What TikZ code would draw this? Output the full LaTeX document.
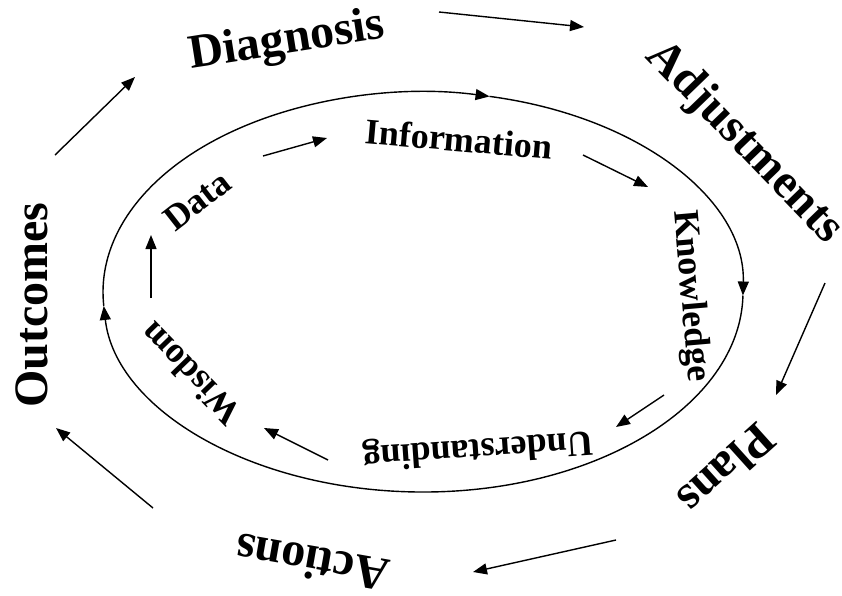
\documentclass[tikz,border=0pt]{standalone}
\usepackage{fontspec}
\setmainfont{Liberation Serif}
\usetikzlibrary{arrows.meta}
\begin{document}
\begin{tikzpicture}[x=1pt,y=-1pt,
  outerlbl/.style={inner sep=0pt,font=\bfseries\fontsize{48}{48}\selectfont},
  innerlbl/.style={inner sep=0pt,font=\bfseries\fontsize{36}{36}\selectfont},
  arr/.style={line width=1.4pt,-{Triangle[length=14pt,width=11pt]}},
  ring/.style={line width=1.4pt,-{Triangle[length=14pt,width=11pt]}}]
\useasboundingbox (0,0) rectangle (842,595);
% outer labels
\node[outerlbl,rotate=9] (diag) at (287,42) {Diagnosis};
\node[outerlbl,rotate=-46] (adj) at (744,143) {Adjustments};
\node[outerlbl,rotate=222] (plans) at (727,470) {Plans};
\node[outerlbl,rotate=170] (act) at (312,563) {Actions};
\node[outerlbl,rotate=90] (out) at (32,305) {Outcomes};
% inner labels
\node[innerlbl,rotate=38] (data) at (197,201) {Data};
\node[innerlbl,rotate=-5] (info) at (459,139) {Information};
\node[innerlbl,rotate=-85] (know) at (690,296) {Knowledge};
\node[innerlbl,rotate=184] (und) at (478,448) {Understanding};
\node[innerlbl,rotate=134] (wis) at (190,374) {Wisdom};
% ring
\coordinate (rl) at (103.8,306);
\coordinate (rt) at (489.5,96.4);
\coordinate (rr) at (742.95,295.5);
\draw[ring] (rl) arc[start angle=184,end angle=78,x radius=320pt,y radius=200pt];
\draw[ring] (rt) arc[start angle=78,end angle=-1,x radius=320pt,y radius=200pt];
\draw[ring] (rr) arc[start angle=-1,end angle=-176,x radius=320pt,y radius=200pt];
% outer arrows
\coordinate (o1s) at (55,155);  \coordinate (o1e) at (135,77);
\coordinate (o2s) at (439,12);  \coordinate (o2e) at (584,27);
\coordinate (o3s) at (825,283); \coordinate (o3e) at (776,395);
\coordinate (o4s) at (616,540); \coordinate (o4e) at (473,572);
\coordinate (o5s) at (153,508); \coordinate (o5e) at (56,428);
\draw[arr] (o1s) -- (o1e);
\draw[arr] (o2s) -- (o2e);
\draw[arr] (o3s) -- (o3e);
\draw[arr] (o4s) -- (o4e);
\draw[arr] (o5s) -- (o5e);
% inner arrows
\coordinate (i1s) at (263,156); \coordinate (i1e) at (327,138);
\coordinate (i2s) at (583,155); \coordinate (i2e) at (648,187);
\coordinate (i3s) at (664,395); \coordinate (i3e) at (616,427);
\coordinate (i4s) at (328,460); \coordinate (i4e) at (264,428);
\coordinate (i5s) at (151,298); \coordinate (i5e) at (151,235);
\draw[arr] (i1s) -- (i1e);
\draw[arr] (i2s) -- (i2e);
\draw[arr] (i3s) -- (i3e);
\draw[arr] (i4s) -- (i4e);
\draw[arr] (i5s) -- (i5e);
\end{tikzpicture}
\end{document}
